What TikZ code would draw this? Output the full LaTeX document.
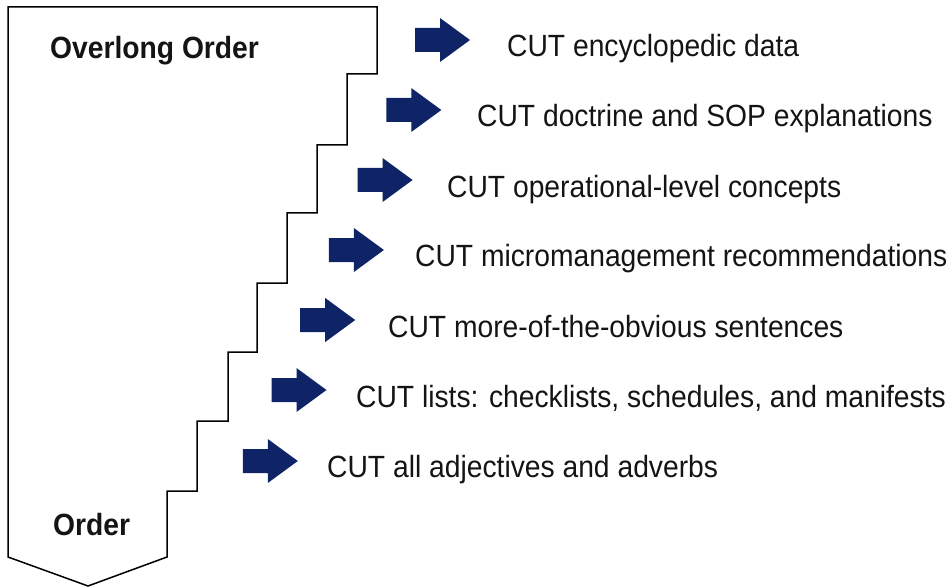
\documentclass[tikz,border=0pt]{standalone}
\usepackage{fontspec}
\setmainfont{Liberation Sans}[FakeStretch=0.92]
\usepackage{tikz}
\usetikzlibrary{positioning}
\definecolor{Navy}{HTML}{0E2466}
\definecolor{Ink}{HTML}{141414}

\tikzset{
    cutarrow/.pic={
        \fill[Navy] (0,-12) -- (25,-12) -- (25,-22) -- (55,0) -- (25,22) -- (25,12) -- (0,12) -- cycle;
    },
    cut/.style={anchor=base west, inner sep=0pt, text=Ink, font=\fontsize{30.7}{34}\selectfont},
    head/.style={anchor=base west, inner sep=0pt, text=Ink, font=\fontsize{30.7}{34}\selectfont\bfseries}
}

\begin{document}
\begin{tikzpicture}[x=1pt, y=-1pt]
\useasboundingbox (0,0) rectangle (950,588);

% staircase order
\draw[line width=1.5pt, line join=miter] (8,7) -- (377,7) -- (377,74)
    -- (347,74) -- (347,145) -- (317,145) -- (317,213) -- (287,213)
    -- (287,283) -- (257,283) -- (257,352) -- (228,352) -- (228,421)
    -- (197,421) -- (197,491) -- (167,491) -- (167,557)
    -- (88,586) -- (8,557) -- cycle;

\node[head] (top) at (50,59) {Overlong Order};
\node[head] (bottom) at (53,535) {Order};

\pic (a1) at (415,40) {cutarrow};
\pic (a2) at (386.3,110) {cutarrow};
\pic (a3) at (357.6,180) {cutarrow};
\pic (a4) at (328.9,250) {cutarrow};
\pic (a5) at (300.2,320) {cutarrow};
\pic (a6) at (271.5,390) {cutarrow};
\pic (a7) at (242.8,461) {cutarrow};

\node[cut] (c1) at (507,57) {CUT encyclopedic data};
\node[cut] (c2) at (477,127) {CUT doctrine and SOP explanations};
\node[cut] (c3) at (447,197) {CUT operational-level concepts};
\node[cut] (c4) at (415,266) {CUT micromanagement recommendations};
\node[cut] (c5) at (388,337) {CUT more-of-the-obvious sentences};
\node[cut] (c6) at (356,407) {CUT lists: checklists, schedules, and manifests};
\node[cut] (c7) at (327,477) {CUT all adjectives and adverbs};

\end{tikzpicture}
\end{document}
